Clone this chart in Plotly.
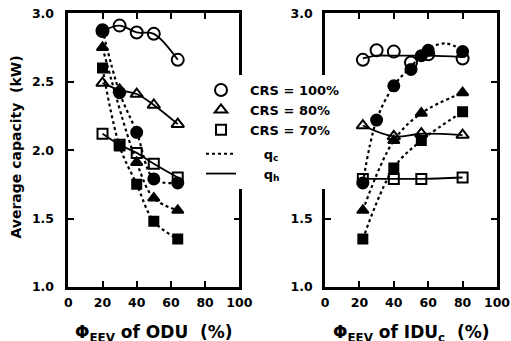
import plotly.graph_objects as go

# ---------------- Left panel: Phi_EEV of ODU ----------------
odu_x = [20, 30, 40, 50, 64]
odu_qh100 = [2.87, 2.91, 2.86, 2.85, 2.66]
odu_qh80 = [2.49, 2.44, 2.41, 2.33, 2.19]
odu_qh70 = [2.12, 2.04, 1.98, 1.90, 1.80]
odu_qc100 = [2.88, 2.42, 2.13, 1.79, 1.76]
odu_x_qc80 = [20, 40, 50, 64]
odu_qc80 = [2.75, 1.91, 1.65, 1.56]
odu_qc70 = [2.60, 2.03, 1.75, 1.48, 1.35]

# ---------------- Right panel: Phi_EEV of IDU_c ----------------
idu_x_qh100 = [22, 30, 40, 50, 60, 80]
idu_qh100 = [2.66, 2.73, 2.72, 2.64, 2.70, 2.67]
idu_x_qh100_fit = [22, 30, 40, 60, 80]
idu_qh100_fit = [2.67, 2.69, 2.69, 2.69, 2.68]
idu_x_qc100 = [22, 30, 40, 50, 56, 60, 80]
idu_qc100 = [1.76, 2.22, 2.47, 2.59, 2.69, 2.73, 2.72]
idu_x_qc100_fit = [22, 30, 40, 50, 60, 70, 80]
idu_qc100_fit = [1.76, 2.22, 2.47, 2.61, 2.74, 2.78, 2.73]
idu_x = [22, 40, 56, 80]
idu_qh80 = [2.18, 2.10, 2.12, 2.11]
idu_qc80 = [1.56, 2.07, 2.27, 2.42]
idu_qh70 = [1.79, 1.79, 1.79, 1.80]
idu_qc70 = [1.35, 1.87, 2.07, 2.28]

x_ticks = [0, 20, 40, 60, 80, 100]
y_ticks = [1.0, 1.5, 2.0, 2.5, 3.0]
y_ticktext_left = ["1.0", "1.5", "2.0", "2.5", "3.0"]
# in the reference the 2.0 / 2.5 labels of the right panel are covered by the legend
y_ticktext_right = ["1.0", "1.5", "", "", "3.0"]

NB = "\u00a0"
legend_names = [NB * 2 + "CRS = 100%", NB * 2 + "CRS = 80%", NB * 2 + "CRS = 70%",
                NB * 5 + "q<sub>c</sub>", NB * 5 + "q<sub>h</sub>"]

FONT = "DejaVu Sans"
BLACK = "black"

fig = go.Figure()


def line(x, y, xa, ya, dash):
    fig.add_trace(go.Scatter(x=x, y=y, xaxis=xa, yaxis=ya, mode="lines",
                             line=dict(color=BLACK, width=2.2 if dash == "dot" else 1.8,
                                       dash=dash, shape="spline", smoothing=1.0),
                             showlegend=False, hoverinfo="skip"))


def marks(x, y, xa, ya, symbol, size):
    fig.add_trace(go.Scatter(x=x, y=y, xaxis=xa, yaxis=ya, mode="markers",
                             marker=dict(symbol=symbol, size=size, color=BLACK,
                                         line=dict(color=BLACK, width=2)),
                             showlegend=False))


# lines left
line(odu_x, odu_qh100, "x", "y", "solid")
line(odu_x, odu_qh80, "x", "y", "solid")
line(odu_x, odu_qh70, "x", "y", "solid")
line(odu_x, odu_qc100, "x", "y", "dot")
line(odu_x_qc80, odu_qc80, "x", "y", "dot")
line(odu_x, odu_qc70, "x", "y", "dot")
# lines right
line(idu_x_qh100_fit, idu_qh100_fit, "x2", "y2", "solid")
line(idu_x, idu_qh80, "x2", "y2", "solid")
line(idu_x, idu_qh70, "x2", "y2", "solid")
line(idu_x_qc100_fit, idu_qc100_fit, "x2", "y2", "dot")
line(idu_x, idu_qc80, "x2", "y2", "dot")
line(idu_x, idu_qc70, "x2", "y2", "dot")

# open markers (q_h)
marks(odu_x, odu_qh100, "x", "y", "circle-open", 12)
marks(odu_x, odu_qh80, "x", "y", "triangle-up-open", 11)
marks(odu_x, odu_qh70, "x", "y", "square-open", 10)
marks(idu_x_qh100, idu_qh100, "x2", "y2", "circle-open", 12)
marks(idu_x, idu_qh80, "x2", "y2", "triangle-up-open", 11)
marks(idu_x, idu_qh70, "x2", "y2", "square-open", 10)
# filled markers (q_c)
marks(odu_x, odu_qc100, "x", "y", "circle", 11)
marks(odu_x_qc80, odu_qc80, "x", "y", "triangle-up", 10)
marks(odu_x, odu_qc70, "x", "y", "square", 9)
marks(idu_x_qc100, idu_qc100, "x2", "y2", "circle", 11)
marks(idu_x, idu_qc80, "x2", "y2", "triangle-up", 10)
marks(idu_x, idu_qc70, "x2", "y2", "square", 9)

# legend entries
for name, sym, sz in zip(legend_names[:3], ["circle-open", "triangle-up-open", "square-open"], [12, 11, 10]):
    fig.add_trace(go.Scatter(x=[None], y=[None], mode="markers", name=name, legendgroup="crs",
                             marker=dict(symbol=sym, size=sz, color=BLACK, line=dict(color=BLACK, width=2))))
fig.add_trace(go.Scatter(x=[None], y=[None], mode="lines", name=legend_names[3], legendgroup="q",
                         line=dict(color=BLACK, width=2, dash="dot")))
fig.add_trace(go.Scatter(x=[None], y=[None], mode="lines", name=legend_names[4], legendgroup="q",
                         line=dict(color=BLACK, width=1.8)))

W, H = 511, 341
axis_common = dict(showline=True, linewidth=2.5, linecolor=BLACK, mirror="ticks",
                   ticks="inside", ticklen=6, tickwidth=2, tickcolor=BLACK,
                   showgrid=False, zeroline=False, ticklabeloverflow="allow",
                   tickfont=dict(family=FONT, size=12.5, color=BLACK, weight="bold"))

ydom = [54 / H, 327.7 / H]
fig.update_layout(
    width=W, height=H,
    margin=dict(l=0, r=0, t=0, b=0, autoexpand=False),
    paper_bgcolor="white", plot_bgcolor="white",
    font=dict(family=FONT, color=BLACK),
    xaxis=dict(domain=[68.3 / W, 239.3 / W], range=[0, 100], tickvals=x_ticks,
               ticklabelstandoff=2, anchor="y", **axis_common),
    yaxis=dict(domain=ydom, range=[1, 3], tickvals=y_ticks, ticktext=y_ticktext_left,
               ticklabelstandoff=9, anchor="x", **axis_common),
    xaxis2=dict(domain=[325 / W, 497 / W], range=[0, 100], tickvals=x_ticks,
                ticklabelstandoff=2, anchor="y2", **axis_common),
    yaxis2=dict(domain=ydom, range=[1, 3], tickvals=y_ticks, ticktext=y_ticktext_right,
                ticklabelstandoff=7, anchor="x2", **axis_common),
    legend=dict(x=201 / W, y=1 - 75 / H, xanchor="left", yanchor="top",
                bgcolor="white", borderwidth=0, tracegroupgap=4,
                font=dict(family=FONT, size=13, color=BLACK, weight="bold")),
    showlegend=True,
)

title_font = dict(family=FONT, size=17, color=BLACK, weight="bold")
fig.add_annotation(text="\u03a6<sub>EEV</sub> of ODU\u00a0\u00a0(%)", xref="paper", yref="paper",
                   x=153.8 / W, y=1 - 333 / H, xanchor="center", yanchor="middle",
                   showarrow=False, font=title_font)
fig.add_annotation(text="\u03a6<sub>EEV</sub> of IDU<sub>c</sub>\u00a0\u00a0(%)", xref="paper", yref="paper",
                   x=411.5 / W, y=1 - 333 / H, xanchor="center", yanchor="middle",
                   showarrow=False, font=title_font)
fig.add_annotation(text="Average capacity\u00a0\u00a0(kW)", xref="paper", yref="paper",
                   x=15 / W, y=1 - 147.5 / H, xanchor="center", yanchor="middle", textangle=-90,
                   showarrow=False, font=dict(family=FONT, size=14, color=BLACK, weight="bold"))

fig.write_html("out.html", config={"displayModeBar": False},
               post_script="document.body.style.margin='0';document.body.style.overflow='hidden';")
